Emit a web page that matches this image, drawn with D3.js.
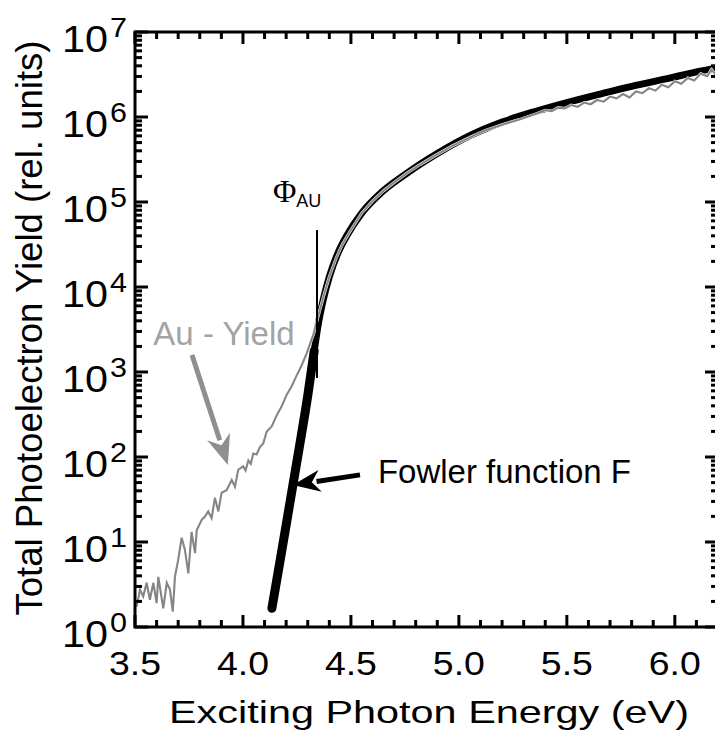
<!DOCTYPE html>
<html lang="en">
<head>
    <meta charset="utf-8">
    <title>Total photoelectron yield of Au</title>
    <script src="https://d3js.org/d3.v7.js"></script>
    <style>
        body { margin: 0; background: #fff; }
        text { font-family: "Liberation Sans", Arial, sans-serif; }
        .axis line, .axis path { stroke: #000; stroke-width: 3px; fill: none; }
    </style>
</head>
<body>
<svg width="715" height="731"></svg>
<script type="text/javascript">
    // tick values
    const energyTicks = [3.5, 4.0, 4.5, 5.0, 5.5, 6.0];
    const decadeTicks = [0, 1, 2, 3, 4, 5, 6, 7];

    // measured Au yield: photon energy (eV) and log10 of yield
    const auEnergy = [3.508, 3.523, 3.538, 3.554, 3.569, 3.585, 3.600, 3.608, 3.631, 3.647,
        3.662, 3.675, 3.685, 3.700, 3.716, 3.731, 3.747, 3.762, 3.778, 3.786,
        3.809, 3.824, 3.839, 3.855, 3.870, 3.886, 3.901, 3.924, 3.948, 3.963,
        3.978, 4.001, 4.012, 4.025, 4.036, 4.048, 4.063, 4.079, 4.094, 4.110,
        4.133, 4.156, 4.180, 4.202, 4.225, 4.249, 4.272, 4.295, 4.326, 4.356,
        4.38, 4.40, 4.43, 4.46, 4.50, 4.55, 4.60, 4.65,
        4.70, 4.76, 4.82, 4.90, 4.97, 5.05, 5.12, 5.20, 5.28, 5.36,
        5.40, 5.43, 5.46, 5.49, 5.52, 5.55, 5.58, 5.61, 5.64, 5.67,
        5.70, 5.73, 5.76, 5.79, 5.82, 5.85, 5.88, 5.91, 5.94, 5.97,
        6.00, 6.03, 6.06, 6.09, 6.12, 6.15, 6.17, 6.19, 6.20];
    const auLogYield = [0.24, 0.44, 0.36, 0.52, 0.32, 0.52, 0.28, 0.59, 0.22, 0.52,
        0.44, 0.18, 0.59, 0.79, 1.05, 0.91, 0.63, 1.12, 0.87, 1.14,
        1.26, 1.30, 1.36, 1.28, 1.52, 1.36, 1.58, 1.61, 1.73, 1.65,
        1.85, 1.89, 1.84, 1.96, 1.92, 2.04, 2.03, 2.12, 2.16, 2.30,
        2.36, 2.49, 2.60, 2.73, 2.83, 2.96, 3.08, 3.22, 3.44, 3.73,
        3.95, 4.12, 4.33, 4.50, 4.67, 4.87, 5.01, 5.13,
        5.23, 5.34, 5.44, 5.56, 5.66, 5.76, 5.84, 5.91, 5.97, 6.04,
        6.08, 6.07, 6.11, 6.10, 6.14, 6.12, 6.17, 6.15, 6.20, 6.18,
        6.24, 6.22, 6.27, 6.23, 6.30, 6.28, 6.34, 6.31, 6.38, 6.35,
        6.42, 6.39, 6.46, 6.43, 6.51, 6.48, 6.56, 6.50, 6.57];

    // Fowler function fit
    const fowlerEnergy = [4.134, 4.18, 4.22, 4.26, 4.30, 4.33, 4.35, 4.37, 4.40, 4.44,
        4.48, 4.55, 4.64, 4.76, 4.90, 5.05, 5.20, 5.36, 5.50, 5.67,
        5.80, 5.98, 6.10, 6.20];
    const fowlerLogYield = [0.22, 0.90, 1.50, 2.10, 2.72, 3.25, 3.58, 3.83, 4.12, 4.40,
        4.60, 4.87, 5.11, 5.34, 5.57, 5.78, 5.94, 6.07, 6.17, 6.28,
        6.36, 6.46, 6.53, 6.58];

    // annotations in data units [energy, log10 yield]
    const phiMarker = [[4.343, 4.67], [4.343, 2.93]];
    const phiLabel = [4.139, 5.0];
    const auArrow = [[3.764, 3.20], [3.93, 1.906]];
    const fowlerArrow = [[4.542, 1.79], [4.231, 1.67]];
    const auLabel = [3.585, 3.32];
    const fowlerLabel = [4.625, 1.70];

    const svg = d3.select("svg");
    const plotLeft = 135, plotRight = 718, plotTop = 32, plotBottom = 627;

    const x = d3.scaleLinear().domain([3.5, 6.2]).range([plotLeft, plotRight]);
    const y = d3.scaleLog().domain([1, 1e7]).range([plotBottom, plotTop]);
    const ly = v => y(Math.pow(10, v));

    svg.append("clipPath").attr("id", "plotClip")
        .append("rect").attr("x", plotLeft).attr("y", plotTop)
        .attr("width", plotRight - plotLeft).attr("height", plotBottom - plotTop);

    const plot = svg.append("g").attr("clip-path", "url(#plotClip)");

    // Fowler function, thick black (heavier below threshold)
    const fowler = fowlerEnergy.map((e, i) => [e, fowlerLogYield[i]]);
    const line = d3.line().x(d => x(d[0])).y(d => ly(d[1])).curve(d3.curveMonotoneX);
    plot.append("path")
        .attr("d", line(fowler))
        .attr("fill", "none").attr("stroke", "#000")
        .attr("stroke-width", 7).attr("stroke-linecap", "round");
    plot.append("path")
        .attr("d", line(fowler.filter(d => d[0] <= 4.33)))
        .attr("fill", "none").attr("stroke", "#000")
        .attr("stroke-width", 9).attr("stroke-linecap", "round");

    // measured yield, gray with thin white halo
    const au = auEnergy.map((e, i) => [e, auLogYield[i]]);
    const auLine = d3.line().x(d => x(d[0])).y(d => ly(d[1]));
    plot.append("path").attr("d", auLine(au))
        .attr("fill", "none").attr("stroke", "#fff").attr("stroke-width", 3);
    plot.append("path").attr("d", auLine(au))
        .attr("fill", "none").attr("stroke", "#858585").attr("stroke-width", 2.1);

    // work function marker
    svg.append("line")
        .attr("x1", x(phiMarker[0][0])).attr("y1", ly(phiMarker[0][1]))
        .attr("x2", x(phiMarker[1][0])).attr("y2", ly(phiMarker[1][1]))
        .attr("stroke", "#000").attr("stroke-width", 2);

    const phi = svg.append("text")
        .attr("x", x(phiLabel[0])).attr("y", ly(phiLabel[1]));
    phi.append("tspan").text("\u03A6")
        .style("font-family", "'Liberation Serif', 'Times New Roman', serif")
        .attr("font-size", 32);
    phi.append("tspan").text("AU").attr("font-size", 18).attr("dy", 5);

    // arrows
    function arrow(pts, color, headLen, headWidth, shaft) {
        const x0 = x(pts[0][0]), y0 = ly(pts[0][1]);
        const x1 = x(pts[1][0]), y1 = ly(pts[1][1]);
        const a = Math.atan2(y1 - y0, x1 - x0);
        const bx = x1 - headLen * Math.cos(a), by = y1 - headLen * Math.sin(a);
        svg.append("line")
            .attr("x1", x0).attr("y1", y0).attr("x2", bx).attr("y2", by)
            .attr("stroke", color).attr("stroke-width", shaft);
        const nx = -Math.sin(a) * headWidth / 2, ny = Math.cos(a) * headWidth / 2;
        const backX = x1 - headLen * 0.8 * Math.cos(a), backY = y1 - headLen * 0.8 * Math.sin(a);
        const head = [[x1, y1], [bx - headLen * 0.15 * Math.cos(a) + nx, by - headLen * 0.15 * Math.sin(a) + ny],
            [backX, backY], [bx - headLen * 0.15 * Math.cos(a) - nx, by - headLen * 0.15 * Math.sin(a) - ny]];
        svg.append("path").attr("d", "M" + head.join("L") + "Z").attr("fill", color);
    }
    arrow(auArrow, "#8f8f8f", 26, 24, 5);
    arrow(fowlerArrow, "#000", 24, 22, 5);

    svg.append("text").text("Au - Yield")
        .attr("x", x(auLabel[0])).attr("y", ly(auLabel[1]))
        .attr("font-size", 33).attr("fill", "#a3a3a3");
    svg.append("text").text("Fowler function F")
        .attr("x", x(fowlerLabel[0])).attr("y", ly(fowlerLabel[1]))
        .attr("font-size", 33).attr("fill", "#000");

    // frame
    svg.append("rect").attr("x", plotLeft).attr("y", plotTop)
        .attr("width", plotRight - plotLeft).attr("height", plotBottom - plotTop)
        .attr("fill", "none").attr("stroke", "#000").attr("stroke-width", 3);

    // ticks
    const minorE = d3.range(35, 63).map(v => v / 10);
    const ticks = svg.append("g").attr("class", "axis");
    minorE.forEach(e => {
        const major = energyTicks.some(t => Math.abs(t - e) < 1e-6);
        const len = major ? 12 : 7;
        ticks.append("line").attr("x1", x(e)).attr("x2", x(e)).attr("y1", plotBottom).attr("y2", plotBottom - len);
        ticks.append("line").attr("x1", x(e)).attr("x2", x(e)).attr("y1", plotTop).attr("y2", plotTop + len);
    });
    const minorY = [];
    decadeTicks.slice(0, -1).forEach(d => {
        for (let m = 2; m <= 9; m++) minorY.push(m * Math.pow(10, d));
    });
    minorY.forEach(v => {
        ticks.append("line").attr("x1", plotLeft).attr("x2", plotLeft + 7).attr("y1", y(v)).attr("y2", y(v));
        ticks.append("line").attr("x1", plotRight).attr("x2", plotRight - 7).attr("y1", y(v)).attr("y2", y(v));
    });
    decadeTicks.forEach(d => {
        const v = y(Math.pow(10, d));
        ticks.append("line").attr("x1", plotLeft).attr("x2", plotLeft + 13).attr("y1", v).attr("y2", v);
        ticks.append("line").attr("x1", plotRight).attr("x2", plotRight - 13).attr("y1", v).attr("y2", v);
    });

    // x tick labels
    energyTicks.forEach(e => {
        svg.append("text").text(d3.format(".1f")(e))
            .attr("x", x(e)).attr("y", 675)
            .attr("text-anchor", "middle").attr("font-size", 33)
            .attr("textLength", 52).attr("lengthAdjust", "spacingAndGlyphs");
    });

    // y tick labels 10^n
    decadeTicks.forEach(d => {
        const v = y(Math.pow(10, d));
        svg.append("text").text("10")
            .attr("x", 108).attr("y", v + 20)
            .attr("text-anchor", "end").attr("font-size", 36)
            .attr("textLength", 46).attr("lengthAdjust", "spacingAndGlyphs");
        svg.append("text").text(d)
            .attr("x", 110).attr("y", v + 5)
            .attr("font-size", 27)
            .attr("textLength", 17).attr("lengthAdjust", "spacingAndGlyphs");
    });

    // axis titles
    svg.append("text").text("Exciting Photon Energy (eV)")
        .attr("x", 429).attr("y", 723)
        .attr("text-anchor", "middle").attr("font-size", 32)
        .attr("textLength", 520).attr("lengthAdjust", "spacingAndGlyphs");
    svg.append("text").text("Total Photoelectron Yield (rel. units)")
        .attr("transform", "translate(42,328) rotate(-90)")
        .attr("text-anchor", "middle").attr("font-size", 37)
        .attr("textLength", 575).attr("lengthAdjust", "spacingAndGlyphs");
</script>
</body>
</html>
